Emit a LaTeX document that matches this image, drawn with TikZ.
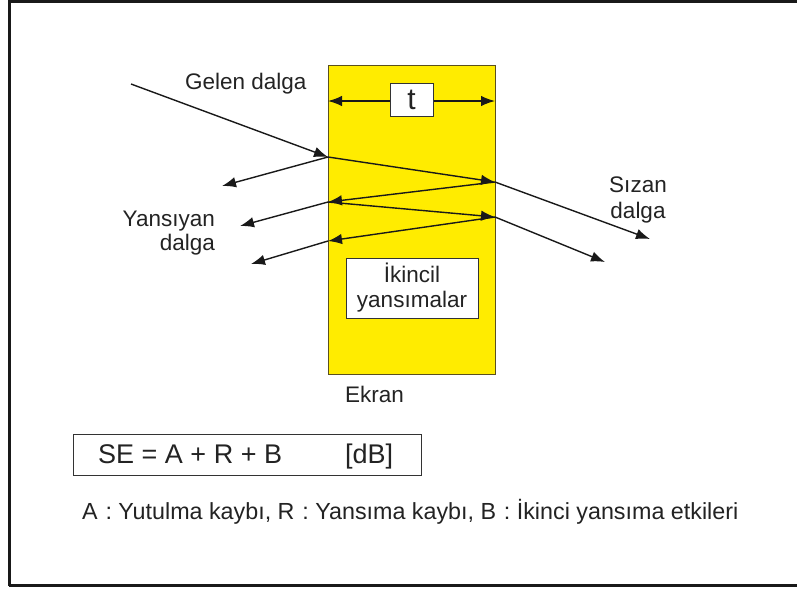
\documentclass[tikz,border=0pt]{standalone}
\usepackage{fontspec}
\setmainfont{Liberation Sans}
\usetikzlibrary{arrows.meta}
\definecolor{ekranyellow}{RGB}{255,236,0}
\definecolor{ekranedge}{RGB}{90,80,30}
\definecolor{txt}{RGB}{35,35,35}
\tikzset{
  tip/.tip={Latex[length=14pt,width=10.5pt]},
  ray/.style={line width=1.4pt, draw=black!90, -tip},
  lbl/.style={inner sep=0pt, text=txt, font=\fontsize{22.5}{25}\selectfont},
  wbox/.style={draw=black!80, line width=1pt, fill=white}
}
\begin{document}
\begin{tikzpicture}[x=1pt,y=-1pt]
\useasboundingbox (0,0) rectangle (797,590);
\fill[white] (0,0) rectangle (797,590);
% frame
\draw[line width=3pt, black!90] (9,586) -- (9,1.5) -- (797,1.5);
\draw[line width=3pt, black!90] (9,585) -- (797,585);
% screen
\node[draw=ekranedge, fill=ekranyellow, line width=1pt, minimum width=167pt, minimum height=309pt, inner sep=0pt] (ekran) at (411.5,219.5) {};
% thickness arrow
\coordinate (tl) at (328,101);
\coordinate (tr) at (495,101);
\draw[line width=1.4pt, draw=black!90, tip-tip] (tl) -- (tr);
\node[wbox, minimum width=43pt, minimum height=33pt, inner sep=0pt, font=\fontsize{30}{32}\selectfont, text=txt] (t) at (411.5,100) {t};
% rays
\coordinate (P0) at (131,84);
\coordinate (P1) at (328,157);
\coordinate (R1) at (222,186);
\coordinate (P2) at (495,182);
\coordinate (T1) at (650,239);
\coordinate (P3) at (328,202);
\coordinate (R2) at (240,226);
\coordinate (P4) at (495,217);
\coordinate (T2) at (605,262);
\coordinate (P5) at (328,241);
\coordinate (R3) at (251,264);
\draw[ray] (P0) -- (P1);
\draw[ray] (P1) -- (P2);
\draw[ray] (P1) -- (R1);
\draw[ray] (P2) -- (T1);
\draw[ray] (P2) -- (P3);
\draw[ray] (P3) -- (R2);
\draw[ray] (P3) -- (P4);
\draw[ray] (P4) -- (T2);
\draw[ray] (P4) -- (P5);
\draw[ray] (P5) -- (R3);
% secondary reflections box
\node[wbox, minimum width=132pt, minimum height=60pt, inner sep=0pt] (ikbox) at (412,288) {};
\node[lbl, anchor=base] (ik1) at (412,282) {İkincil};
\node[lbl, anchor=base] (ik2) at (412,307) {yansımalar};
% labels
\node[lbl, anchor=base west] (gelen) at (185,89) {Gelen dalga};
\node[lbl, anchor=base east] (yan1) at (215,226) {Yansıyan};
\node[lbl, anchor=base east] (yan2) at (215,250) {dalga};
\node[lbl, anchor=base] (siz1) at (638,192) {Sızan};
\node[lbl, anchor=base] (siz2) at (638,218) {dalga};
\node[lbl, anchor=base west] (ekr) at (345,402) {Ekran};
% formula
\node[wbox, minimum width=348pt, minimum height=41pt, inner sep=0pt] (sebox) at (247,454.5) {};
\node[lbl, anchor=base west, font=\fontsize{27}{30}\selectfont] (se) at (98,463) {SE = A + R + B};
\node[lbl, anchor=base west, font=\fontsize{27}{30}\selectfont] (db) at (345,463) {[dB]};
\node[lbl, anchor=base west, font=\fontsize{23.3}{26}\selectfont] (legend) at (82,519) {A\,\,: Yutulma kaybı, R\,\,: Yansıma kaybı, B\,\,: İkinci yansıma etkileri};
\end{tikzpicture}
\end{document}
